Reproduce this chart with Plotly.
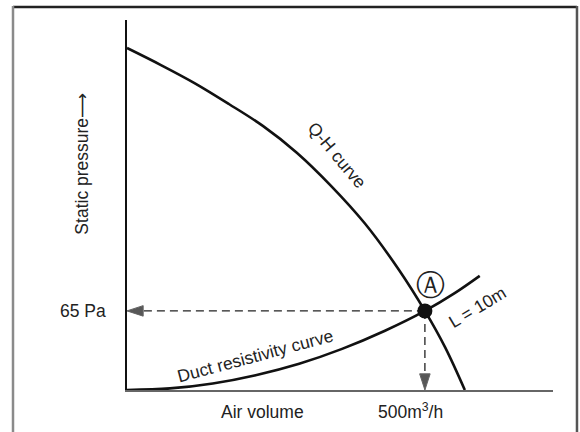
import plotly.graph_objects as go

# Q-H (fan) curve: air volume [m3/h] vs static pressure [Pa]
qh_volume = [0, 57, 114, 171, 228, 285, 342, 399, 456, 500, 534, 567]
qh_pressure = [281, 267, 252, 235, 217, 195, 168, 137, 99, 65, 35, 0]

# Duct resistivity curve (L = 10 m)
duct_volume = [0, 72, 144, 216, 289, 361, 433, 500, 550, 592]
duct_pressure = [0, 1.3, 5.4, 12.2, 21.6, 33.8, 48.7, 65, 79.6, 93.8]

# Operating point A
op_volume = 500
op_pressure = 65

x_range = [0, 715]
y_range = [0, 304]

FONT = "Liberation Sans, Arial, sans-serif"
TXT = "#222222"
FS = 17.5

fig = go.Figure()

# dashed guide lines with arrowheads
for gx, gy in (([op_volume, 0], [op_pressure, op_pressure]),
               ([op_volume, op_volume], [op_pressure, 0])):
    fig.add_trace(go.Scatter(
        x=gx, y=gy, mode="lines+markers",
        line=dict(color="#222", width=1.3, dash="8px,5px"),
        marker=dict(symbol=["circle", "arrow"], size=[0, 17], color="#111",
                    angleref="previous"),
        hoverinfo="skip", showlegend=False))

# curves
fig.add_trace(go.Scatter(
    x=qh_volume, y=qh_pressure, mode="lines",
    line=dict(color="#111", width=2.6, shape="spline", smoothing=1.0),
    hoverinfo="skip", showlegend=False))
fig.add_trace(go.Scatter(
    x=duct_volume, y=duct_pressure, mode="lines",
    line=dict(color="#111", width=2.6, shape="spline", smoothing=1.0),
    hoverinfo="skip", showlegend=False))

# operating point
fig.add_trace(go.Scatter(
    x=[op_volume], y=[op_pressure], mode="markers",
    marker=dict(symbol="circle", size=15, color="#111"),
    hoverinfo="skip", showlegend=False))

ann = []
def add_text(text, x, y, angle=0, xref="x", yref="y", xanchor="center",
             size=FS, family=FONT):
    ann.append(dict(text=text, x=x, y=y, xref=xref, yref=yref, showarrow=False,
                    textangle=angle, xanchor=xanchor, yanchor="middle",
                    font=dict(family=family, size=size, color=TXT)))

add_text("Q-H curve", 352, 193, angle=50)
add_text("L = 10m", 589, 68, angle=-31)
add_text("Duct resistivity curve", 215, 28, angle=-15)
add_text("Ⓐ", 510, 86, size=29, family="DejaVu Sans, sans-serif")
add_text("65 Pa", -0.0446, op_pressure, xref="paper", xanchor="right")
add_text("Air volume", 0.319, -0.0595, xref="paper", yref="paper")
add_text("500m<sup>3</sup>/h", 475, -0.057, yref="paper")
add_text("Static pressure<span style=\"font-family:DejaVu Sans\">⟶</span>",
         -0.1056, 186, angle=-90, xref="paper")

fig.update_layout(annotations=ann)

# outer frame
fig.add_shape(type="line", xref="paper", yref="paper", layer="above",
              x0=-0.2676, x1=1.0563, y0=1.0351, y1=1.0351,
              line=dict(color="#222222", width=2.5))
fig.add_shape(type="line", xref="paper", yref="paper", layer="above",
              x0=-0.2676, x1=-0.2676, y0=-0.2, y1=1.038,
              line=dict(color="#8a8a8a", width=2.5))
fig.add_shape(type="line", xref="paper", yref="paper", layer="above",
              x0=1.0563, x1=1.0563, y0=-0.2, y1=1.038,
              line=dict(color="#555", width=2.5))

fig.update_xaxes(range=x_range, showgrid=False, zeroline=False, showticklabels=False,
                 ticks="", showline=True, linecolor="#666", linewidth=2)
fig.update_yaxes(range=y_range, showgrid=False, zeroline=False, showticklabels=False,
                 ticks="", showline=True, linecolor="#111", linewidth=1.5)

fig.update_layout(
    width=580, height=432,
    margin=dict(l=127, r=27, t=20, b=42),
    plot_bgcolor="white", paper_bgcolor="white",
)

fig.write_html("out.html", config={"displayModeBar": False},
               post_script="document.body.style.margin='0px';"
                           "document.body.style.overflow='hidden';"
                           "document.documentElement.style.overflow='hidden';")
